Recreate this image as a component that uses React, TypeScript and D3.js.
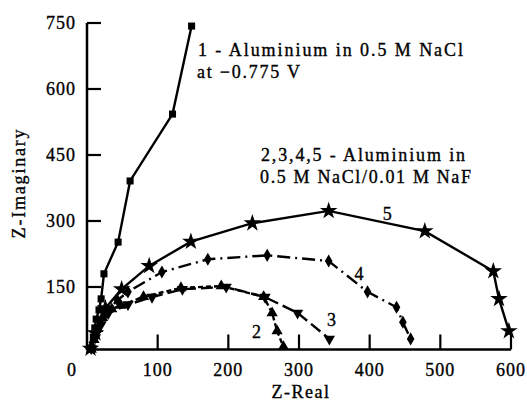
import React from "react";
import * as d3 from "d3";

const xTicks = [0, 100, 200, 300, 400, 500, 600];
const yTicks = [150, 300, 450, 600, 750];

const s1: [number, number][] = [[7, 12], [9, 36], [11, 57], [13, 77], [17, 98], [20, 123], [24, 180], [44, 252], [61, 391], [121, 543], [148, 743]];
const s2: [number, number][] = [[6, 8], [10, 30], [15, 55], [22, 80], [35, 100], [48, 108], [80, 128], [133, 148], [190, 152], [250, 128], [262, 91], [269, 50], [278, 14]];
const s3: [number, number][] = [[6, 10], [12, 35], [20, 65], [30, 90], [58, 110], [92, 127], [135, 145], [197, 150], [252, 127], [298, 91], [343, 32]];
const s4: [number, number][] = [[6, 12], [15, 50], [28, 95], [43, 120], [58, 139], [106, 184], [171, 213], [255, 222], [342, 209], [397, 139], [438, 104], [447, 70], [458, 32]];
const s5: [number, number][] = [[5, 10], [12, 45], [26, 102], [49, 145], [88, 198], [147, 253], [234, 295], [342, 323], [478, 277], [575, 186], [583, 123], [597, 50]];

const curveLabels = ["2", "3", "4", "5"];
const curveLabelPos: [number, number][] = [[240, 48], [346, 75], [385, 180], [425, 317]];

const note1 = ["1 - Aluminium in 0.5 M NaCl", "at \u22120.775 V"];
const note2 = ["2,3,4,5 - Aluminium in", "0.5 M NaCl/0.01 M NaF"];

const FONT = "'Liberation Serif', 'Times New Roman', serif";

export default function App() {
  const x = d3.scaleLinear().domain([0, 600]).range([87, 511]);
  const y = d3.scaleLinear().domain([0, 750]).range([353, 23]);
  const axisY = y(8);
  const line = d3.line<[number, number]>().x(d => x(d[0])).y(d => y(d[1]));

  const series = [
    { data: s1, dash: "none", sym: d3.symbolSquare, size: 50, rot: 0 },
    { data: s2, dash: "5,3", sym: d3.symbolTriangle, size: 55, rot: 0 },
    { data: s3, dash: "12,5", sym: d3.symbolTriangle, size: 55, rot: 180 },
    { data: s4, dash: "13,5,2,5", sym: d3.symbolDiamond, size: 50, rot: 0 },
    { data: s5, dash: "none", sym: d3.symbolStar, size: 95, rot: 0 },
  ];

  const textStyle = { fontFamily: FONT, fontSize: 18, fill: "#000", stroke: "#000", strokeWidth: 0.35 } as const;

  return (
    <svg width={527} height={408} style={{ position: "absolute", left: 0, top: 0, background: "#fff" }}>
      <line x1={x(0)} y1={axisY} x2={x(600)} y2={axisY} stroke="#000" strokeWidth={2.5} />
      <line x1={x(0)} y1={axisY + 1} x2={x(0)} y2={y(750)} stroke="#000" strokeWidth={2.5} />
      {yTicks.map(t => (
        <g key={"y" + t}>
          <line x1={x(0)} x2={x(0) + 14} y1={y(t)} y2={y(t)} stroke="#000" strokeWidth={2.2} />
          <text x={76} y={y(t)} dy="0.35em" textAnchor="end" letterSpacing={1} {...textStyle}>{t}</text>
        </g>
      ))}
      {xTicks.map(t => (
        <g key={"x" + t}>
          {t > 0 && <line x1={x(t)} x2={x(t)} y1={axisY} y2={axisY - 15} stroke="#000" strokeWidth={2.2} />}
          <text x={x(t) - (t === 0 ? 15 : 0)} y={376} textAnchor="middle" letterSpacing={1} {...textStyle}>{t}</text>
        </g>
      ))}
      <text x={301} y={398} textAnchor="middle" letterSpacing={1.5} {...textStyle}>Z-Real</text>
      <text transform={`translate(25,183) rotate(-90)`} textAnchor="middle" letterSpacing={1.8} {...textStyle}>Z-Imaginary</text>

      {series.map((s, i) => (
        <g key={"s" + i}>
          <path d={line(s.data) || ""} fill="none" stroke="#000" strokeWidth={2.4} strokeDasharray={s.dash} />
          {s.data.map((d, j) => (
            <path
              key={j}
              d={d3.symbol().type(s.sym).size(s.size)() || ""}
              transform={`translate(${x(d[0])},${y(d[1])}) rotate(${s.rot})`}
              fill="#000"
            />
          ))}
        </g>
      ))}

      {curveLabels.map((l, i) => (
        <text key={"c" + l} x={x(curveLabelPos[i][0])} y={y(curveLabelPos[i][1])} dy="0.35em" textAnchor="middle" {...textStyle}>{l}</text>
      ))}

      <text x={198} y={56} textLength={265} lengthAdjust="spacing" {...textStyle}>{note1[0]}</text>
      <text x={197} y={78} textLength={103} lengthAdjust="spacing" {...textStyle}>{note1[1]}</text>
      <text x={261} y={161} textLength={204} lengthAdjust="spacing" {...textStyle}>{note2[0]}</text>
      <text x={260} y={183} textLength={211} lengthAdjust="spacing" {...textStyle}>{note2[1]}</text>
    </svg>
  );
}
